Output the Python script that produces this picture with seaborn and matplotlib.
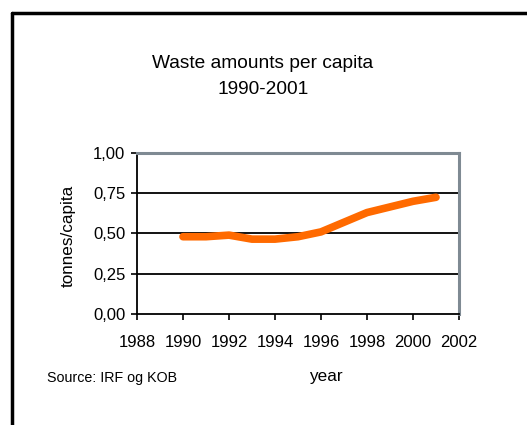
import matplotlib
matplotlib.use("Agg")
import matplotlib.pyplot as plt
import seaborn as sns
import pandas as pd
from matplotlib.lines import Line2D

sns.set_theme(style="white")
plt.rcParams["font.family"] = ["Liberation Sans", "DejaVu Sans"]
plt.rcParams["text.color"] = "black"
plt.rcParams["xtick.color"] = "black"
plt.rcParams["ytick.color"] = "black"

years = [1990, 1991, 1992, 1993, 1994, 1995, 1996, 1997, 1998, 1999, 2000, 2001]
waste = [0.48, 0.48, 0.49, 0.465, 0.465, 0.48, 0.51, 0.57, 0.63, 0.665, 0.70, 0.725]
x_ticks = [1988, 1990, 1992, 1994, 1996, 1998, 2000, 2002]
y_ticks = [0.0, 0.25, 0.5, 0.75, 1.0]
y_tick_labels = ["0,00", "0,25", "0,50", "0,75", "1,00"]

df = pd.DataFrame({"year": years, "waste": waste})

fig = plt.figure(figsize=(5.27, 4.25), dpi=100)
ax = fig.add_axes([137 / 527, 1 - 314 / 425, 322 / 527, 161 / 425])

# horizontal gridlines
for yv in y_ticks[1:-1]:
    ax.axhline(yv, color="black", lw=1.3, zorder=1)

sns.lineplot(data=df, x="year", y="waste", ax=ax, color="#FF6A00",
             linewidth=5.5, solid_capstyle="round", solid_joinstyle="round", zorder=3)

ax.set_xlim(1988, 2002)
ax.set_ylim(0, 1.0)
ax.set_xticks(x_ticks)
ax.set_xticklabels([str(t) for t in x_ticks], fontsize=12)
ax.set_yticks(y_ticks)
ax.set_yticklabels(y_tick_labels, fontsize=12)
ax.tick_params(axis="both", direction="out", length=4.3, width=1.2, color="black",
               labelcolor="black", bottom=True, left=True)
ax.tick_params(axis="x", pad=11)
ax.tick_params(axis="y", pad=4)
ax.set_xlabel("")
ax.set_ylabel("")

for side in ["left", "bottom"]:
    ax.spines[side].set_color("black")
    ax.spines[side].set_linewidth(1.3)
for side in ["top", "right"]:
    ax.spines[side].set_visible(True)
    ax.spines[side].set_color("#7f8a93")
    ax.spines[side].set_linewidth(2.2)

# titles and labels
fig.text(263 / 527, 1 - 63 / 425, "Waste amounts per capita", ha="center", va="center", fontsize=13.8)
fig.text(263 / 527, 1 - 90 / 425, "1990-2001", ha="center", va="center", fontsize=13.8)
fig.text(68 / 527, 1 - 236 / 425, "tonnes/capita", ha="center", va="center",
         rotation=90, fontsize=12.3)
fig.text(326 / 527, 1 - 377 / 425, "year", ha="center", va="center", fontsize=12.3)
fig.text(47 / 527, 1 - 378 / 425, "Source: IRF og KOB", ha="left", va="center", fontsize=10.3)

# outer frame (top and left edges)
fig.add_artist(Line2D([12 / 527, 1.0], [1 - 13 / 425, 1 - 13 / 425],
                      transform=fig.transFigure, color="black", lw=2.5))
fig.add_artist(Line2D([12 / 527, 12 / 527], [0.0, 1 - 13 / 425],
                      transform=fig.transFigure, color="black", lw=2.5))

fig.savefig("out.png", dpi=100, facecolor="white")
